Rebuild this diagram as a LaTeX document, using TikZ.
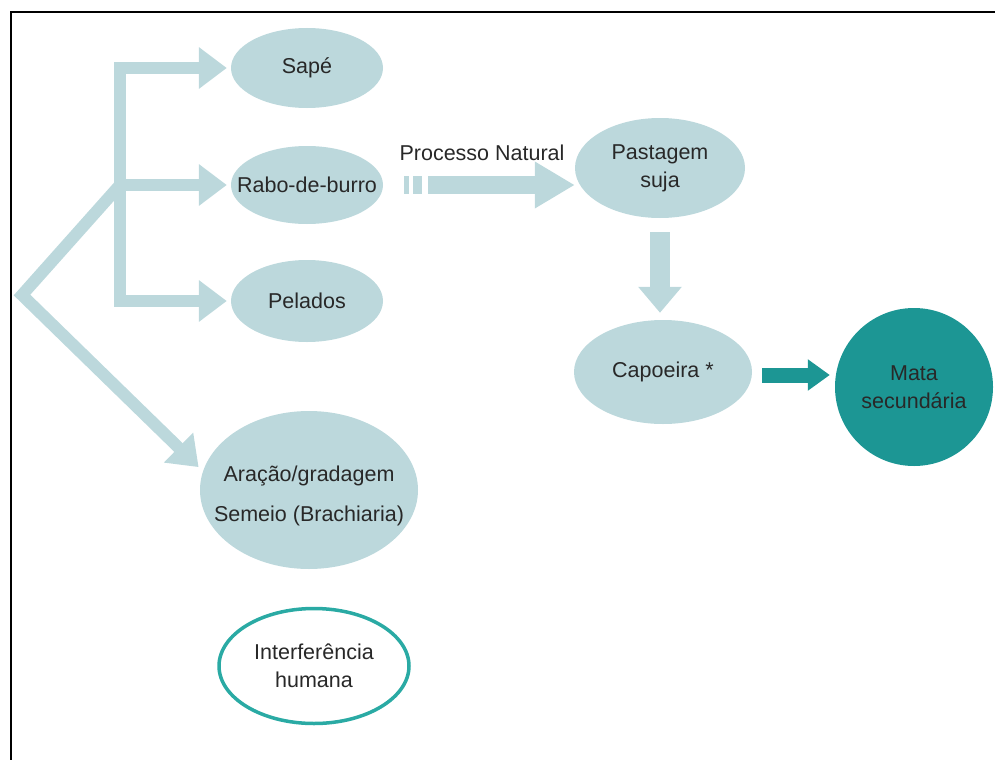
\documentclass[tikz,border=0pt]{standalone}
\usepackage{fontspec}
\setmainfont{Liberation Sans}
\usetikzlibrary{arrows.meta,calc,positioning,shapes.geometric}
\definecolor{paleteal}{RGB}{188,216,220}
\definecolor{deepteal}{RGB}{28,150,148}
\definecolor{ringteal}{RGB}{42,170,164}
\definecolor{txtgray}{RGB}{40,40,40}
\tikzset{
    blob/.style={ellipse,fill=paleteal,draw=none,inner sep=0pt},
    fatline/.style={draw=paleteal,line width=12pt},
    fatarrow/.style={fatline,-{Triangle[length=28pt,width=40pt]}},
    every label/.style={font=\fontsize{21.5}{28}\selectfont,text=txtgray,align=center},
    every node/.style={font=\fontsize{21.5}{28}\selectfont,text=txtgray}
}

\begin{document}
\begin{tikzpicture}[x=1pt,y=-1pt]
  \useasboundingbox (0,0) rectangle (995,760);
  \draw[line width=2.5pt] (995,12) -- (11,12) -- (11,760);

  \node[blob,minimum width=152,minimum height=80,label=center:Sapé] (Sape) at (307,68) {};
  \node[blob,minimum width=152,minimum height=78,label=center:Rabo-de-burro] (Rabo) at (307,185) {};
  \node[blob,minimum width=152,minimum height=82,label=center:Pelados] (Pelados) at (307,301) {};
  \node[blob,minimum width=218,minimum height=158,
        label={[yshift=-6]center:{Aração/gradagem\\[12pt]Semeio (Brachiaria)}}] (Aracao) at (309,490) {};
  \node[blob,minimum width=170,minimum height=100,label={center:{Pastagem\\suja}}] (Pastagem) at (660,168) {};
  \node[blob,minimum width=178,minimum height=104,label=center:Capoeira *] (Capoeira) at (663,372) {};
  \node[circle,fill=deepteal,inner sep=0pt,minimum size=158,
        label={center:{Mata\\secundária}}] (Mata) at (914,387) {};
  \node[ellipse,draw=ringteal,fill=white,line width=3.5pt,inner sep=0pt,
        minimum width=190,minimum height=115,label={center:{Interferência\\humana}}] (Interf) at (314,666) {};

  % branching arrows
  \coordinate (apex) at (22,295);
  \coordinate (fork) at (120,185);
  \draw[fatline,line cap=rect] (Sape.west -| fork) -- (Pelados.west -| fork);
  \foreach \N in {Sape,Rabo,Pelados}{
    \draw[fatarrow,shorten >=4pt] (\N.west -| fork) -- (\N.west);
  }
  \draw[fatarrow,line join=miter,shorten >=6pt] (fork) -- (apex) -- (Aracao.170);

  % natural process
  \coordinate (pnStart) at ($(Rabo.east)+(21,0)$);
  \draw[draw=paleteal,line width=18pt,dash pattern=on 5pt off 4pt on 9pt off 6pt on 400pt,
        -{Triangle[length=40pt,width=44pt]}] (pnStart) -- (pnStart -| Pastagem.west);
  \node (pnLabel) at (482,153) {Processo Natural};

  \draw[draw=paleteal,line width=20pt,-{Triangle[length=26pt,width=42pt]},
        shorten <=14pt,shorten >=7pt] (Pastagem.south) -- (Pastagem.south |- Capoeira.north);
  \coordinate (capOut) at ($(Capoeira.east)+(0,3)$);
  \draw[draw=deepteal,line width=15pt,-{Triangle[length=22pt,width=30pt]},
        shorten <=10pt,shorten >=5pt] (capOut) -- (capOut -| Mata.west);
\end{tikzpicture}
\end{document}
